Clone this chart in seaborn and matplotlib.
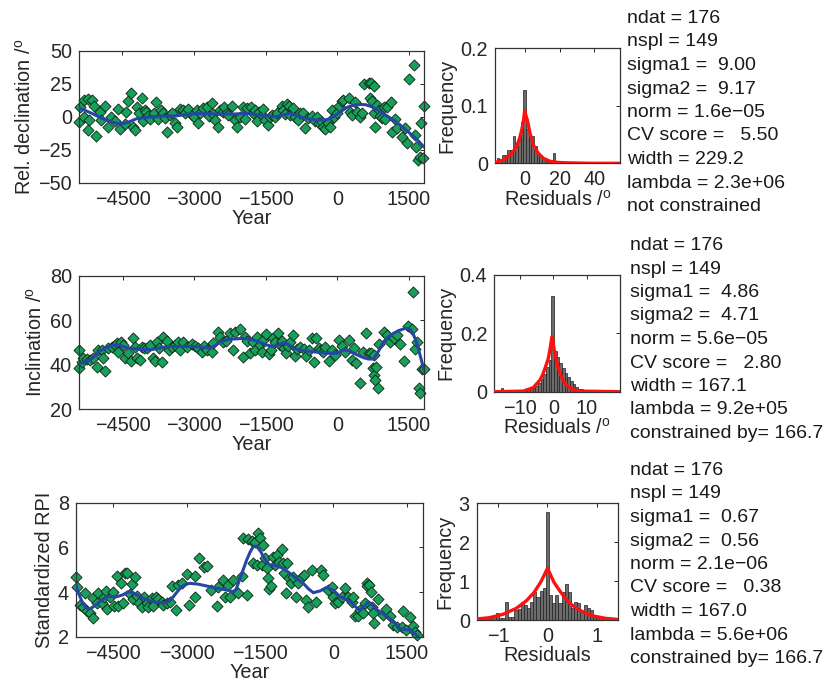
import numpy as np
import matplotlib
matplotlib.use("Agg")
import matplotlib.pyplot as plt
from matplotlib.ticker import FuncFormatter
import seaborn as sns

# ---- row 1: relative declination ----
decl_year = [-5395, -5409, -5311, -5297, -5220, -5199, -5129, -5094, -5213, -5045, -4976, -4941,
             -4871, -4801, -4731, -4661, -4591, -4542, -4451, -4416, -4381, -4311, -4276, -4241,
             -4192, -4150, -4101, -4080, -4031, -3997, -3962, -3927, -3843, -3801, -3752, -3703,
             -3661, -3612, -3577, -3507, -3472, -3402, -3367, -3297, -3241, -3192, -3122, -3052,
             -3003, -2934, -2913, -2878, -2808, -2738, -2682, -2633, -2598, -2563, -2493, -2458,
             -2402, -2374, -2318, -2283, -2213, -2143, -2094, -2038, -1983, -1934, -1885, -1815,
             -1773, -1724, -1689, -1633, -1584, -1549, -1514, -1444, -1409, -1374, -1304, -1269,
             -1164, -1129, -1094, -1045, -1004, -990, -920, -885, -815, -780, -710, -675, -605,
             -535, -465, -416, -374, -325, -290, -255, -185, -150, -115, -80, -10, 45, 94, 129,
             234, 255, 304, 374, 409, 465, 514, 549, 654, 703, 759, 675, 724, 759, 794, 829, 864,
             899, 934, 969, 1004, 1038, 1122, 1143, 1213, 1248, 1353, 1423, 1458, 1493, 1598,
             1633, 1654, 1682, 1724, 1752, 1794, 1815]
decl_val = [7.1, -4.0, -0.5, 12.6, 13.4, -2.5, 12.6, 8.1, -10.1, -14.6, 3.5, -2.5,
            8.1, -7.6, -0.5, -3.0, 5.8, -9.6, -5.6, 3.8, 12.1, 18.2, -7.6, -10.1,
            7.1, 2.5, 13.9, -3.0, 5.1, 3.8, 0.5, -2.0, 2.5, 10.9, -2.0, 5.1,
            3.0, -1.3, -11.4, 1.3, 3.0, -5.1, -7.6, 5.8, 5.1, 3.0, 5.6, 1.3,
            -0.5, 5.1, -5.1, 3.0, 6.3, 7.6, 0.5, 10.6, 2.0, -2.5, -7.6, 5.1,
            3.8, 7.1, 2.5, 1.3, 8.1, -2.5, -7.6, -0.5, 7.1, -2.0, 6.3, 7.1,
            3.0, 5.1, -3.0, 3.8, 1.3, 5.6, -2.5, -6.3, -0.5, 1.3, -0.5, 2.5,
            8.1, 5.1, 2.0, 9.6, 8.1, 1.3, 6.3, -0.5, -2.5, 2.5, 3.0, -8.8, -1.3,
            0.5, -3.0, -0.5, -5.1, -3.8, -7.6, -9.6, -4.5, -7.6, 5.1, -0.5, 3.0, 8.1, 12.1, 12.6,
            13.9, 3.8, 1.3, 11.4, 3.8, -0.5, 2.5, 24.7, 25.8, 25.3, 23.2, 13.9, 12.1, 3.0, -7.6, 8.8, 5.1,
            0.5, -1.3, 7.1, -2.0, 7.6, 11.4, -11.4, -2.0, -8.8, -15.7, -8.8, -20.2, 28.3, 39.1,
            -13.9, -23.2, -32.8, -30.3, -5.1, -31.6, 8.1]
decl_fit_year = [-5410, -5300, -5200, -5100, -5000, -4900, -4800, -4700, -4600, -4500, -4400,
                 -4300, -4200, -4000, -3700, -3400, -3100, -2800, -2500, -2200, -1900, -1600,
                 -1300, -1150, -1000, -850, -700, -550, -400, -300, -200, -100, 0, 100, 200,
                 300, 400, 500, 600, 700, 800, 900, 1000, 1100, 1200, 1300, 1400, 1500, 1600,
                 1700, 1815]
decl_fit_val = [6.5, 5.0, 3.5, 1.8, 0.0, -1.6, -3.0, -4.2, -5.0, -5.2, -4.5,
                -3.0, -1.5, -0.5, 0.5, 0.5, 2.0, 2.5, 2.0, 2.0, 2.5, 1.0,
                0.0, 1.2, 2.5, 1.0, -1.0, -2.0, -2.5, -2.6, -2.0, -0.3, 2.0, 4.6, 7.0,
                8.3, 9.0, 9.3, 9.0, 7.8, 6.0, 3.8, 1.5, -0.8, -3.0, -5.8, -9.0, -12.0, -15.0,
                -18.5, -23.0]

# ---- row 2: inclination ----
incl_year = [-5416, -5416, -5360, -5325, -5241, -5185, -5129, -5045, -5010, -4941, -4906, -4871,
             -4801, -4731, -4661, -4626, -4591, -4542, -4486, -4451, -4381, -4332, -4276, -4241,
             -4192, -4136, -4101, -4052, -3997, -3927, -3871, -3822, -3787, -3731, -3682, -3647,
             -3577, -3521, -3472, -3402, -3332, -3297, -3227, -3157, -3052, -2983, -2913, -2843,
             -2794, -2724, -2633, -2598, -2493, -2458, -2402, -2332, -2248, -2192, -2143, -2052,
             -1983, -1934, -1885, -1829, -1773, -1724, -1675, -1619, -1584, -1549, -1493, -1444,
             -1395, -1353, -1304, -1255, -1213, -1164, -1129, -1073, -1045, -990, -934, -885,
             -850, -780, -710, -654, -605, -535, -486, -444, -395, -346, -304, -255, -185, -115,
             -45, 24, 94, 164, 234, 304, 353, 395, 465, 535, 605, 654, 703, 745, 759, 773, 794,
             815, 843, 864, 969, 1038, 1108, 1178, 1248, 1304, 1388, 1472, 1563, 1584, 1633,
             1668, 1703, 1738, 1773, 1815]
incl_val = [46.6, 38.6, 41.3, 42.8, 42.5, 42.1, 43.1, 39.1, 46.6, 46.6, 43.1, 37.1,
            47.3, 48.1, 48.8, 49.6, 45.5, 50.0, 48.8, 43.1, 45.1, 41.6, 51.8, 48.1,
            43.1, 42.1, 48.1, 47.6, 47.3, 48.8, 42.8, 41.6, 50.0, 47.3, 41.0, 52.6,
            50.6, 46.6, 48.1, 48.8, 50.0, 46.6, 50.3, 48.1, 49.1, 48.5, 47.3, 45.8,
            48.5, 46.6, 45.8, 49.6, 54.8, 52.6, 50.0, 50.6, 54.1, 46.6, 54.8, 56.0,
            43.6, 52.6, 50.6, 45.1, 50.0, 46.6, 52.6, 48.8, 45.5, 51.1, 53.6, 44.6,
            46.6, 52.1, 50.0, 54.1, 48.8, 50.6, 47.3, 45.1, 48.5, 50.3, 53.3, 44.0,
            47.0, 48.1, 47.0, 44.0, 46.6, 51.8, 41.3, 51.8, 47.3, 46.6, 45.5, 48.1, 41.6, 46.6,
            44.3, 51.1, 48.5, 45.5, 51.1, 42.1, 47.6, 40.6, 31.6, 45.8, 54.1, 45.1, 45.1, 38.6, 44.3, 35.3, 33.0,
            39.1, 29.6, 49.1, 54.5, 53.3, 50.3, 51.8, 53.3, 49.1, 41.6, 57.5, 56.0, 72.5, 47.0,
            50.0, 29.6, 27.1, 38.0, 38.0]
incl_fit_year = [-5416, -5300, -5185, -5080, -4976, -4850, -4696, -4550, -4416, -4200, -3927,
                 -3750, -3577, -3300, -3017, -2800, -2668, -2560, -2458, -2300, -2178, -1969,
                 -1800, -1619, -1480, -1339, -1230, -1129, -1020, -920, -780, -640, -430, -220,
                 -10, 129, 240, 339, 450, 549, 650, 759, 860, 969, 1070, 1178, 1300, 1423, 1520,
                 1598, 1660, 1703, 1760, 1815]
incl_fit_val = [40.6, 41.0, 42.1, 44.0, 46.1, 47.6, 48.8, 48.6, 47.6, 47.0, 46.6,
                47.4, 48.1, 48.2, 48.1, 47.8, 47.3, 48.5, 50.3, 51.2, 51.5, 51.8,
                51.3, 50.0, 48.8, 48.1, 48.8, 50.0, 49.0, 47.3, 46.5, 46.1, 45.6, 45.1,
                45.1, 46.6, 46.2, 45.1, 44.0, 43.1, 42.5, 42.5, 46.0, 50.3, 52.5, 54.1, 55.4, 56.3, 56.0,
                53.3, 50.0, 46.6, 42.0, 37.6]

# ---- row 3: standardized RPI ----
rpi_year = [-5265, -5251, -5183, -5115, -5081, -5033, -4979, -4924, -4910, -4842, -4808, -4740,
            -4692, -4651, -4624, -4569, -4515, -4488, -4433, -4399, -4351, -4310, -4263, -4215,
            -4160, -4126, -4106, -4058, -4010, -3969, -3922, -3874, -3819, -3785, -3717, -3683,
            -3628, -3581, -3512, -3478, -3410, -3342, -3308, -3219, -3171, -3103, -2987, -2946,
            -2830, -2830, -2742, -2646, -2578, -2510, -2387, -2353, -2251, -2217, -2148, -2114,
            -2046, -1944, -1876, -1841, -1773, -1739, -1671, -1650, -1603, -1569, -1535, -1500,
            -1466, -1432, -1398, -1364, -1330, -1309, -1282, -1241, -1194, -1159, -1105, -1057,
            -1037, -1009, -968, -941, -900, -873, -818, -764, -716, -648, -600, -559, -512,
            -443, -355, -259, -205, -102, -34, 0, 34, 102, 171, 239, 307, 375, 409, 443, 512,
            546, 600, 648, 682, 696, 737, 764, 784, 805, 832, 921, 1009, 1078, 1159, 1214, 1296,
            1398, 1432, 1487, 1569, 1623, 1671, 1705]
rpi_val = [4.66, 4.24, 3.42, 3.34, 3.97, 3.16, 3.04, 3.72, 2.82, 3.49, 3.94, 3.52,
           3.79, 4.06, 3.22, 3.79, 4.02, 3.37, 4.72, 3.37, 4.39, 3.52, 4.87, 4.87,
           3.91, 4.36, 3.67, 4.69, 3.82, 3.52, 3.31, 3.79, 3.49, 3.31, 3.72, 3.37,
           3.79, 3.67, 3.57, 3.42, 3.49, 3.57, 4.27, 3.19, 4.31, 4.42, 4.81, 3.42,
           3.79, 4.72, 5.51, 5.10, 5.16, 4.09, 3.37, 4.24, 4.54, 3.79, 4.31, 3.79,
           4.54, 3.94, 4.72, 6.40, 3.87, 6.36, 6.30, 5.31, 6.25, 5.21, 6.66, 6.40,
           5.21, 6.10, 5.51, 5.06, 4.61, 4.12, 4.27, 5.55, 5.21, 5.66, 5.36, 5.91,
           5.31, 4.84, 3.94, 5.28, 4.61, 4.42, 4.69, 3.79, 4.42, 4.66, 4.76, 3.64, 3.31,
           4.99, 3.57, 4.99, 4.76, 4.09, 4.24, 3.79, 3.49, 3.57, 3.79, 4.16, 3.79, 3.57, 3.76, 2.93, 2.93,
           3.19, 3.04, 3.52, 4.42, 4.27, 4.31, 4.02, 3.34, 3.04, 2.60, 3.67, 2.97, 3.22, 2.93, 2.52, 2.45,
           2.45, 3.16, 2.30, 2.90, 2.48, 2.22, 2.07]
rpi_fit_year = [-5265, -5225, -5183, -5115, -5047, -4980, -4910, -4840, -4774, -4700, -4638,
                -4540, -4433, -4300, -4194, -4080, -3956, -3820, -3683, -3550, -3410, -3340,
                -3274, -3190, -3103, -3020, -2933, -2760, -2592, -2400, -2182, -2100, -2046,
                -1990, -1944, -1860, -1773, -1700, -1637, -1585, -1535, -1480, -1432, -1360,
                -1296, -1190, -1091, -990, -887, -750, -614, -510, -409, -270, -136, 0, 136,
                240, 341, 450, 546, 630, 716, 800, 887, 1020, 1159, 1260, 1364, 1470, 1569,
                1650, 1739]
rpi_fit_val = [4.31, 4.00, 3.79, 3.45, 3.27, 3.25, 3.34, 3.45, 3.57, 3.70, 3.79,
               3.80, 3.79, 3.88, 4.02, 3.95, 3.79, 3.66, 3.57, 3.52, 3.52, 3.62,
               3.79, 4.02, 4.24, 4.34, 4.39, 4.35, 4.27, 4.18, 4.09, 4.04, 4.02,
               4.12, 4.39, 4.90, 5.43, 5.80, 6.03, 6.05, 5.96, 5.80, 5.58, 5.35,
               5.21, 5.18, 5.13, 5.00, 4.84, 4.60, 4.39, 4.15, 3.97, 4.05, 4.21, 4.09, 3.79,
               3.70, 3.57, 3.35, 3.19, 3.35, 3.57, 3.42, 3.22, 3.02, 2.82, 2.60, 2.37, 2.32, 2.30,
               2.18, 2.00]

# ---- residual histograms (bar heights, frequency) ----
h1_freq = [0.010, 0.0075, 0.0145, 0.0145, 0.023, 0.023, 0.048, 0.036, 0.046, 0.071, 0.128,
           0.059, 0.046, 0.048, 0.030, 0.016, 0.0145, 0.007, 0.007, 0.003, 0.006, 0.0185,
           0.003, 0, 0, 0, 0, 0, 0, 0, 0.003, 0, 0, 0, 0, 0, 0, 0.003, 0, 0, 0, 0, 0, 0, 0, 0.003]
h2_freq = [0.003, 0.0, 0.014, 0.006, 0.003, 0.003, 0.003, 0.0, 0.003, 0.003, 0.006, 0.006,
           0.008, 0.010, 0.012, 0.020, 0.030, 0.045, 0.060, 0.085, 0.110, 0.328, 0.140, 0.120,
           0.100, 0.080, 0.065, 0.050, 0.035, 0.025, 0.015, 0.010, 0.008, 0.005, 0.004, 0.003,
           0.003, 0.002, 0.002, 0.002, 0.002, 0.0, 0.002, 0.0, 0.002, 0.0, 0.003]
h3_freq = [0.06, 0.02, 0.04, 0.086, 0.04, 0.086, 0.17, 0.04, 0.04, 0.45, 0.086, 0.086, 0.26,
           0.28, 0.45, 0.39, 0.30, 0.45, 0.73, 0.60, 0.75, 0.81, 2.77, 0.64, 0.43, 0.64, 0.43,
           0.73, 0.92, 0.73, 0.30, 0.45, 0.43, 0.21, 0.39, 0.30, 0.26, 0.13, 0.086, 0.04, 0.04,
           0.02, 0.04, 0.04, 0.04]

# fitted residual distributions (red)
r1_x = [-17.4, -12.6, -8.7, -6.5, -4.8, -3.2, -1.9, -0.9, -0.2, 0.5, 1.35, 2.9, 4.8, 6.2, 7.7,
        10.6, 14.5, 18.0, 22.2, 37.7, 55.0]
r1_y = [0.0012, 0.0058, 0.0145, 0.022, 0.030, 0.043, 0.058, 0.074, 0.092, 0.083, 0.075, 0.052,
        0.032, 0.024, 0.0174, 0.0087, 0.0035, 0.0018, 0.001, 0.0, 0.0]
r2_x = [-17.7, -9.0, -6.0, -4.0, -3.2, -2.5, -1.9, -1.5, -1.0, -0.4, 0.2, 0.6, 1.0, 1.6, 2.2,
        2.8, 3.5, 4.5, 5.5, 8.0, 20.0]
r2_y = [0.0, 0.002, 0.014, 0.040, 0.058, 0.080, 0.100, 0.114, 0.145, 0.189, 0.149, 0.124,
        0.103, 0.078, 0.057, 0.042, 0.029, 0.017, 0.009, 0.002, 0.0]
r3_x = [-1.43, -1.17, -0.90, -0.63, -0.43, -0.27, -0.13, 0.0, 0.13, 0.27, 0.43, 0.63, 0.90, 1.17, 1.40]
r3_y = [0.026, 0.06, 0.146, 0.30, 0.49, 0.71, 0.99, 1.33, 0.97, 0.71, 0.45, 0.26, 0.11, 0.043, 0.017]

stats1 = ["ndat = 176", "nspl = 149", "sigma1 =  9.00", "sigma2 =  9.17", "norm = 1.6e\u221205",
          "CV score =   5.50", "width = 229.2", "lambda = 2.3e+06", "not constrained"]
stats2 = ["ndat = 176", "nspl = 149", "sigma1 =  4.86", "sigma2 =  4.71", "norm = 5.6e\u221205",
          "CV score =   2.80", "width = 167.1", "lambda = 9.2e+05", "constrained by= 166.7"]
stats3 = ["ndat = 176", "nspl = 149", "sigma1 =  0.67", "sigma2 =  0.56", "norm = 2.1e\u221206",
          "CV score =   0.38", "width = 167.0", "lambda = 5.6e+06", "constrained by= 166.7"]

sns.set_style("white")
plt.rcParams["font.family"] = ["Liberation Sans", "DejaVu Sans"]
plt.rcParams["mathtext.fontset"] = "custom"
plt.rcParams["mathtext.rm"] = "Liberation Sans"
plt.rcParams["axes.linewidth"] = 0.9

W, H = 837, 683
fig = plt.figure(figsize=(W / 100, H / 100), dpi=100)


def rect(l, t, r, b):
    return [l / W, 1 - b / H, (r - l) / W, (b - t) / H]


GREEN = "#16a05c"
BLUE = "#2646a6"
FS = 14.3
deg = r"/$^{\rm o}$"


def style_ax(ax):
    ax.tick_params(direction="in", top=True, right=True, length=3, width=0.7,
                   labelsize=FS, pad=5, colors="0.15")
    for s in ax.spines.values():
        s.set_color("0.2")
        s.set_visible(True)


def g_fmt(v, pos):
    return ("%g" % v).replace("-", "\u2212") if v != 0 else "0"


def series_panel(r, yr, val, fyr, fval, xlim, ylim, yticks, ylabel):
    ax = fig.add_axes(rect(*r))
    sns.scatterplot(x=yr, y=val, ax=ax, marker="D", s=32, color=GREEN,
                    edgecolor="#102010", linewidth=0.6, clip_on=False, zorder=2)
    sns.lineplot(x=fyr, y=fval, ax=ax, sort=False, estimator=None, color=BLUE,
                 lw=2.2, zorder=3)
    ax.set_xlim(*xlim)
    ax.set_ylim(*ylim)
    ax.set_xticks([-4500, -3000, -1500, 0, 1500])
    ax.set_yticks(yticks)
    ax.set_xlabel("Year", fontsize=FS, labelpad=0)
    ax.set_ylabel(ylabel, fontsize=FS, labelpad=3)
    style_ax(ax)
    return ax


def hist_panel(r, freq, start, width, rx, ry, xlim, ylim, xticks, yticks, xlabel):
    ax = fig.add_axes(rect(*r))
    n = len(freq)
    centers = [start + width * (k + 0.5) for k in range(n)]
    sns.histplot(x=centers, weights=freq, binwidth=width, binrange=(start, start + n * width),
                 ax=ax, color="0.42", edgecolor="0.12", linewidth=0.5, alpha=1, zorder=2)
    sns.lineplot(x=rx, y=ry, ax=ax, sort=False, estimator=None, color="#ff1010", lw=2.4, zorder=3)
    ax.set_xlim(*xlim)
    ax.set_ylim(*ylim)
    ax.set_xticks(xticks)
    ax.set_yticks(yticks)
    ax.xaxis.set_major_formatter(FuncFormatter(g_fmt))
    ax.yaxis.set_major_formatter(FuncFormatter(g_fmt))
    ax.set_xlabel(xlabel, fontsize=FS, labelpad=0)
    ax.set_ylabel("Frequency", fontsize=FS, labelpad=3)
    style_ax(ax)
    return ax


series_panel((79, 50.7, 424, 182.7), decl_year, decl_val, decl_fit_year, decl_fit_val,
             (-5410, 1815), (-50, 50), [-50, -25, 0, 25, 50], "Rel. declination " + deg)
series_panel((79, 275.7, 424, 409), incl_year, incl_val, incl_fit_year, incl_fit_val,
             (-5416, 1815), (20, 80), [20, 40, 60, 80], "Inclination " + deg)
series_panel((76, 502.7, 422.7, 636.7), rpi_year, rpi_val, rpi_fit_year, rpi_fit_val,
             (-5265, 1830), (2, 8), [2, 4, 6, 8], "Standardized RPI")

hist_panel((495, 48.3, 620, 163.3), h1_freq, -16.43, 1.545, r1_x, r1_y,
           (-17.4, 55.0), (0, 0.2), [0, 20, 40], [0, 0.1, 0.2], "Residuals " + deg)
hist_panel((494.3, 275, 620, 391.7), h2_freq, -17.4, 0.8, r2_x, r2_y,
           (-17.7, 20.0), (0, 0.4), [-10, 0, 10], [0, 0.2, 0.4], "Residuals " + deg)
hist_panel((476.7, 503.3, 618.3, 620), h3_freq, -1.43, 0.0635, r3_x, r3_y,
           (-1.43, 1.43), (0, 3.0), [-1, 0, 1], [0, 1, 2, 3], "Residuals")

for lines, x0, y0 in [(stats1, 627.5, 18.5), (stats2, 630.5, 245.5), (stats3, 630.5, 470.5)]:
    for i, s in enumerate(lines):
        fig.text(x0 / W, 1 - (y0 + 23.5 * i) / H, s, fontsize=14.0, va="center", ha="left",
                 color="0.1")

fig.savefig("out.png", dpi=100, facecolor="white")
